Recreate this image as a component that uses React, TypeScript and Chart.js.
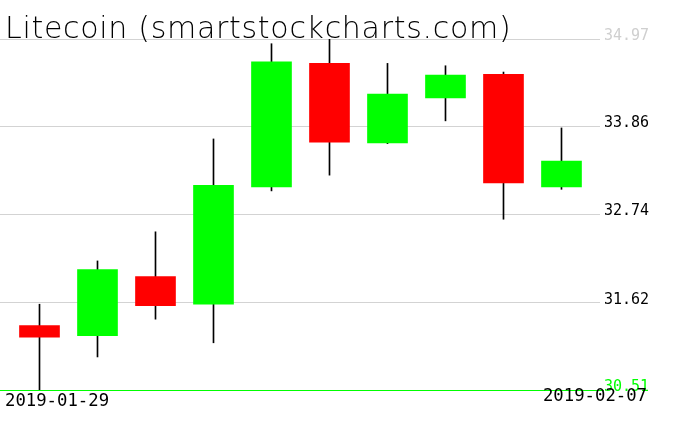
import { useEffect, useRef } from 'react';
import { Chart, registerables } from 'chart.js';

Chart.register(...registerables);

const titleText = 'Litecoin (smartstockcharts.com)';
const dates = ['2019-01-29', '2019-01-30', '2019-01-31', '2019-02-01', '2019-02-02', '2019-02-03', '2019-02-04', '2019-02-05', '2019-02-06', '2019-02-07'];
const opens = [31.33, 31.2, 31.95, 31.6, 33.09, 34.66, 33.65, 34.22, 34.52, 33.09];
const highs = [31.6, 32.15, 32.52, 33.7, 34.91, 34.97, 34.66, 34.63, 34.55, 33.84];
const lows = [30.51, 30.93, 31.41, 31.11, 33.04, 33.24, 33.64, 33.93, 32.68, 33.06];
const closes = [31.18, 32.04, 31.58, 33.11, 34.68, 33.66, 34.27, 34.51, 33.14, 33.42];
const yTickLabels = ['30.51', '31.62', '32.74', '33.86', '34.97'];

const GREEN = '#00ff00';
const RED = '#ff0000';
const GRID = '#d3d3d3';
const MONO = '"DejaVu Sans Mono", "Liberation Mono", monospace';

const textPlugin = {
  id: 'textPlugin',
  afterDraw(chart: any) {
    const ctx = chart.ctx as CanvasRenderingContext2D;
    ctx.save();
    ctx.fillStyle = '#000';
    ctx.textBaseline = 'alphabetic';
    ctx.font = '200 30px "DejaVu Sans", sans-serif';
    ctx.textAlign = 'left';
    (ctx as any).letterSpacing = '0.7px';
    ctx.fillText(titleText, 5, 38);
    (ctx as any).letterSpacing = '0px';
    ctx.font = '17.3px ' + MONO;
    ctx.fillText(dates[0], 5, 406);
    ctx.textAlign = 'right';
    ctx.fillText(dates[dates.length - 1], 647, 401);
    ctx.restore();
  },
};

export default function App() {
  const ref = useRef<HTMLCanvasElement | null>(null);

  useEffect(() => {
    if (!ref.current) return;
    const idx = dates.map((_, i) => i);
    const chart = new Chart(ref.current, {
      type: 'bar',
      data: {
        datasets: [
          {
            label: 'wick',
            data: idx.map((i) => ({ x: i, y: [lows[i], highs[i]] })) as any,
            backgroundColor: '#000',
            barThickness: 1,
            grouped: false,
            order: 2,
          } as any,
          {
            label: 'body',
            data: idx.map((i) => ({ x: i, y: [opens[i], closes[i]] })) as any,
            backgroundColor: idx.map((i) => (closes[i] >= opens[i] ? GREEN : RED)),
            barThickness: 40,
            grouped: false,
            order: 1,
          } as any,
        ],
      },
      options: {
        animation: false,
        responsive: false,
        layout: { padding: { top: 39, bottom: 41, left: 0, right: 0 } },
        plugins: { legend: { display: false }, tooltip: { enabled: false }, title: { display: false } },
        scales: {
          x: {
            type: 'linear',
            display: false,
            offset: false,
            grid: { offset: false },
            min: -0.681,
            max: 9.664,
          },
          y: {
            type: 'linear',
            position: 'right',
            min: Math.min(...lows),
            max: Math.max(...highs),
            z: 1,
            afterFit(scale: any) {
              scale.width = 76;
            },
            afterBuildTicks(scale: any) {
              scale.ticks = yTickLabels.map((l) => ({ value: parseFloat(l) }));
            },
            border: { display: false },
            grid: {
              color: (c: any) => (c.index === 0 ? GREEN : GRID),
              lineWidth: 1,
              drawTicks: true,
              tickLength: 4,
              tickColor: (c: any) => (c.index === 0 ? GREEN : 'rgba(0,0,0,0)'),
            },
            ticks: {
              padding: 0,
              labelOffset: -3,
              font: { family: MONO, size: 15 },
              color: (c: any) => (c.index === 0 ? GREEN : c.index === yTickLabels.length - 1 ? '#cfcfcf' : '#000'),
              callback: (_v: any, i: number) => yTickLabels[i],
            },
          },
        },
      },
      plugins: [textPlugin],
    });
    return () => chart.destroy();
  }, []);

  return (
    <div style={{ position: 'absolute', left: 0, top: 0, width: 676, height: 431, background: '#fff' }}>
      <canvas ref={ref} width={676} height={431} />
    </div>
  );
}
